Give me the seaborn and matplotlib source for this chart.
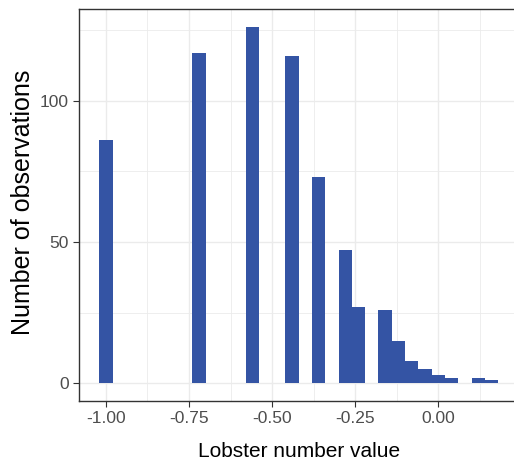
import numpy as np
import pandas as pd
import matplotlib
matplotlib.use("Agg")
import matplotlib.pyplot as plt
import seaborn as sns

# bin centres (width 0.04) and counts
lobster_value = [-1.00, -0.72, -0.56, -0.44, -0.36, -0.28, -0.24,
                 -0.16, -0.12, -0.08, -0.04, 0.00, 0.04, 0.12, 0.16]
n_obs = [86, 117, 126, 116, 73, 47, 27, 26, 15, 8, 5, 3, 2, 2, 1]

x_ticks = [-1.00, -0.75, -0.50, -0.25, 0.00]
x_minor = [-0.875, -0.625, -0.375, -0.125, 0.125]
y_ticks = [0, 50, 100]
y_minor = [25, 75, 125]

df = pd.DataFrame({"value": lobster_value, "n": n_obs})

sns.set_theme(style="white")
plt.rcParams["font.family"] = ["Liberation Sans", "DejaVu Sans"]
plt.rcParams["axes.unicode_minus"] = False

fig = plt.figure(figsize=(5.14, 4.67), dpi=100)
# panel runs past the right edge of the picture, as in the reference
ax = fig.add_axes([0.1543, 0.1413, 1.0467 - 0.1543, 0.9797 - 0.1413])

sns.histplot(data=df, x="value", weights="n", binwidth=0.04,
             binrange=(-1.02, 0.18), color="#3454a4", alpha=1,
             linewidth=0, ax=ax)

ax.set_xlim(-1.08, 0.30)
ax.set_ylim(-6.3, 132.3)

ax.set_xticks(x_ticks)
ax.set_xticklabels([f"{v:.2f}" for v in x_ticks])
ax.set_xticks(x_minor, minor=True)
ax.set_yticks(y_ticks)
ax.set_yticklabels([str(v) for v in y_ticks])
ax.set_yticks(y_minor, minor=True)

ax.set_axisbelow(True)
ax.grid(which="major", color="#ebebeb", lw=1.0)
ax.grid(which="minor", color="#ebebeb", lw=0.6)

ax.tick_params(which="major", length=4, width=0.8, color="#333333",
               labelsize=12.5, labelcolor="#4d4d4d", pad=3.5,
               bottom=True, left=True, direction="out")
ax.tick_params(which="minor", length=0)

for s in ax.spines.values():
    s.set_color("#333333")
    s.set_linewidth(1.0)
ax.spines["right"].set_visible(False)

ax.set_xlabel("Lobster number value", fontsize=15, color="black")
ax.set_ylabel("Number of observations", fontsize=18, color="black")
# centre of the (uncropped) panel sits at x ~ 299 px
ax.xaxis.set_label_coords(0.479, -0.1277)
ax.xaxis.label.set_va("center")
ax.yaxis.set_label_coords(-0.1221, 0.507)
ax.yaxis.label.set_va("center")

fig.savefig("out.png", dpi=100, facecolor="white")
